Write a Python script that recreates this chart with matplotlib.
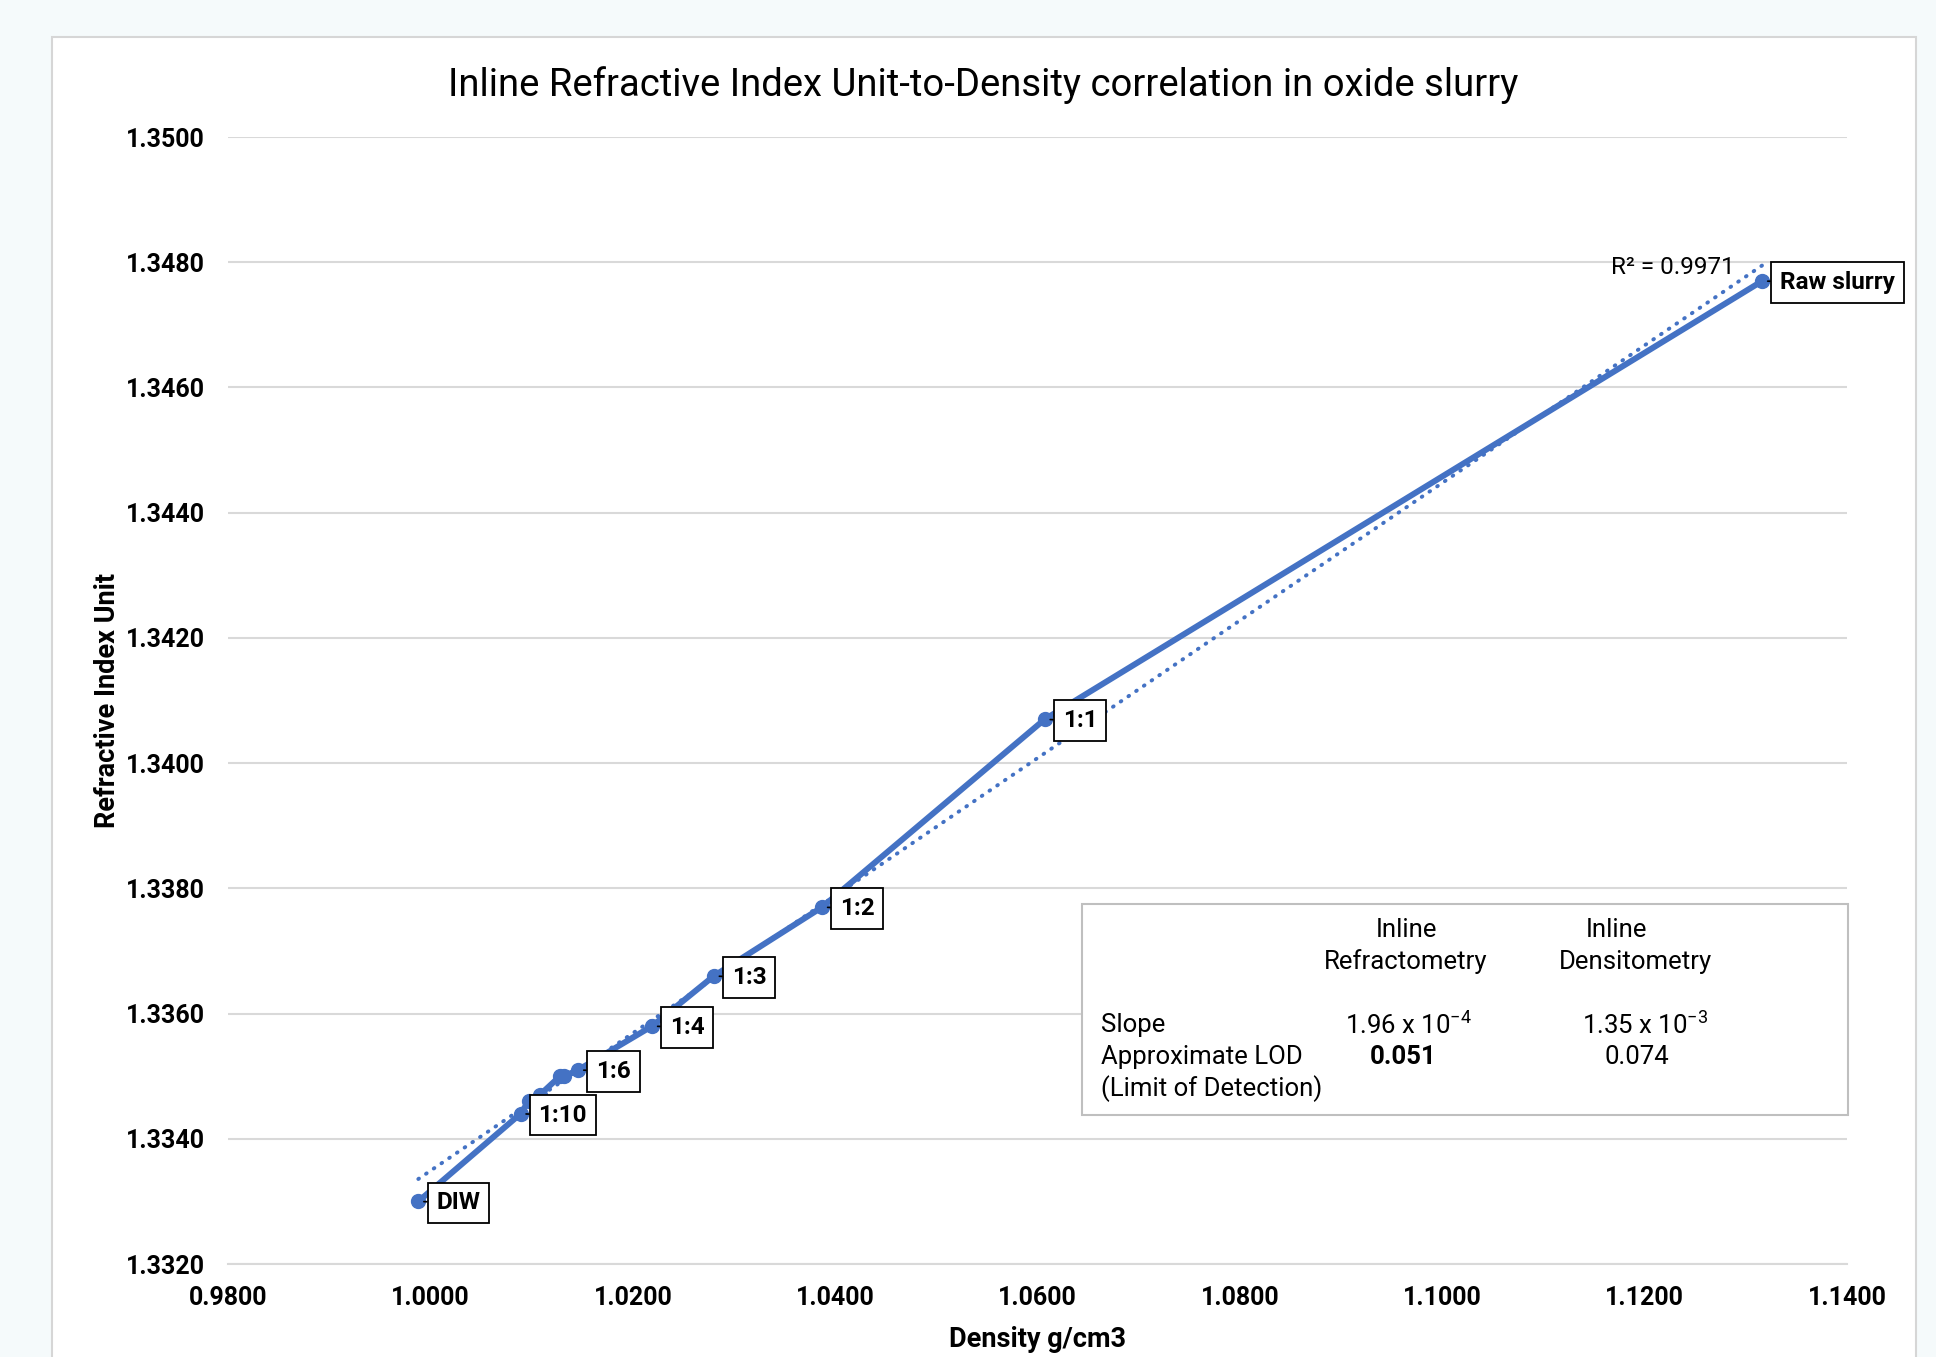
import matplotlib
matplotlib.use('Agg')
import matplotlib.pyplot as plt
import matplotlib.patches as patches
import numpy as np

plt.rcParams['font.family'] = ['Roboto', 'DejaVu Sans']
plt.rcParams['mathtext.fontset'] = 'custom'
plt.rcParams['mathtext.rm'] = 'Roboto'
plt.rcParams['mathtext.default'] = 'regular'

BLUE = '#4472C4'

# dilution points (density g/cm3 vs refractive index unit)
labels = ['DIW', '1:10', '', '', '', '', '1:6', '1:4', '1:3', '1:2', '1:1', 'Raw slurry']
density = [0.9988, 1.0089, 1.0097, 1.0108, 1.0128, 1.0132, 1.0146, 1.0219, 1.0280, 1.0387, 1.0607, 1.1316]
riu = [1.3330, 1.3344, 1.3346, 1.3347, 1.3350, 1.3350, 1.3351, 1.3358, 1.3366, 1.3377, 1.3407, 1.3477]

xticks = np.arange(0.98, 1.1401, 0.02)
yticks = np.arange(1.332, 1.3501, 0.002)

fig = plt.figure(figsize=(19.36, 13.57), dpi=100)
fig.set_facecolor('#f5fafb')

# white card behind chart
card = patches.Rectangle((0.0269, -0.05), 0.9628, 1.0227, transform=fig.transFigure,
                         facecolor='white', edgecolor='#d6d6d6', linewidth=1.5, zorder=-5)
fig.patches.append(card)

ax = fig.add_axes([0.1178, 0.0685, 0.8363, 0.8305])
ax.set_facecolor('none')

ax.plot(density, riu, color=BLUE, lw=4.3, marker='o', markersize=10, zorder=3)

# linear trendline
k, b = np.polyfit(density, riu, 1)
tx = np.array([min(density), max(density)])
ax.plot(tx, k * tx + b, color=BLUE, lw=2.8, ls=(0, (0.2, 2.2)), dash_capstyle='round', zorder=2)

for x, y, lab in zip(density, riu, labels):
    if not lab:
        continue
    ax.annotate(lab, xy=(x, y), xytext=(13, -1), textcoords='offset points',
                ha='left', va='center', fontsize=17.5, fontweight='bold',
                bbox=dict(boxstyle='square,pad=0.36', fc='white', ec='black', lw=1.3),
                arrowprops=dict(arrowstyle='-', color='black', lw=1.2,
                                shrinkA=0, shrinkB=4),
                zorder=5)

ax.text(1.1289, 1.34792, 'R² = 0.9971', ha='right', va='center', fontsize=17.5)

ax.set_xlim(0.98, 1.14)
ax.set_ylim(1.332, 1.350)
ax.set_xticks(xticks)
ax.set_yticks(yticks)
ax.set_xticklabels([f'{v:.4f}' for v in xticks], fontsize=18, fontweight='bold')
ax.set_yticklabels([f'{v:.4f}' for v in yticks], fontsize=18, fontweight='bold')
ax.tick_params(length=0)
ax.tick_params(axis='y', pad=17)
ax.tick_params(axis='x', pad=16)
ax.grid(axis='y', color='#d9d9d9', lw=1.5)
ax.set_axisbelow(True)
for s in ['top', 'right', 'left']:
    ax.spines[s].set_visible(False)
ax.spines['bottom'].set_color('#d9d9d9')
ax.spines['bottom'].set_linewidth(1.5)

ax.set_xlabel('Density g/cm3', fontsize=19.5, fontweight='bold', labelpad=11)
ax.set_ylabel('Refractive Index Unit', fontsize=19.5, fontweight='bold', labelpad=3)

fig.text(0.508, 0.937, 'Inline Refractive Index Unit-to-Density correlation in oxide slurry',
         ha='center', va='center', fontsize=27.5)

# slope / LOD table box
box = patches.Rectangle((1082 / 1936, 1 - 1115 / 1357), (1848 - 1082) / 1936, (1115 - 904) / 1357,
                        transform=fig.transFigure, facecolor='white', edgecolor='#bfbfbf',
                        linewidth=1.5, zorder=4)
fig.patches.append(box)

def ft(px, py, s, **kw):
    fig.text(px / 1936, 1 - py / 1357, s, va='center', fontsize=18.5, zorder=6, **kw)

ft(1406, 930, 'Inline', ha='center')
ft(1406, 962, 'Refractometry', ha='center')
ft(1616, 930, 'Inline', ha='center')
ft(1635, 962, 'Densitometry', ha='center')
ft(1101, 1025, 'Slope', ha='left')
ft(1101, 1057, 'Approximate LOD', ha='left')
ft(1101, 1089, '(Limit of Detection)', ha='left')
ft(1408, 1025, '1.96 x 10$^{-4}$', ha='center')
ft(1403, 1057, '0.051', ha='center', fontweight='bold')
ft(1645, 1025, '1.35 x 10$^{-3}$', ha='center')
ft(1637, 1057, '0.074', ha='center')

fig.savefig('out.png', dpi=100, facecolor=fig.get_facecolor())
